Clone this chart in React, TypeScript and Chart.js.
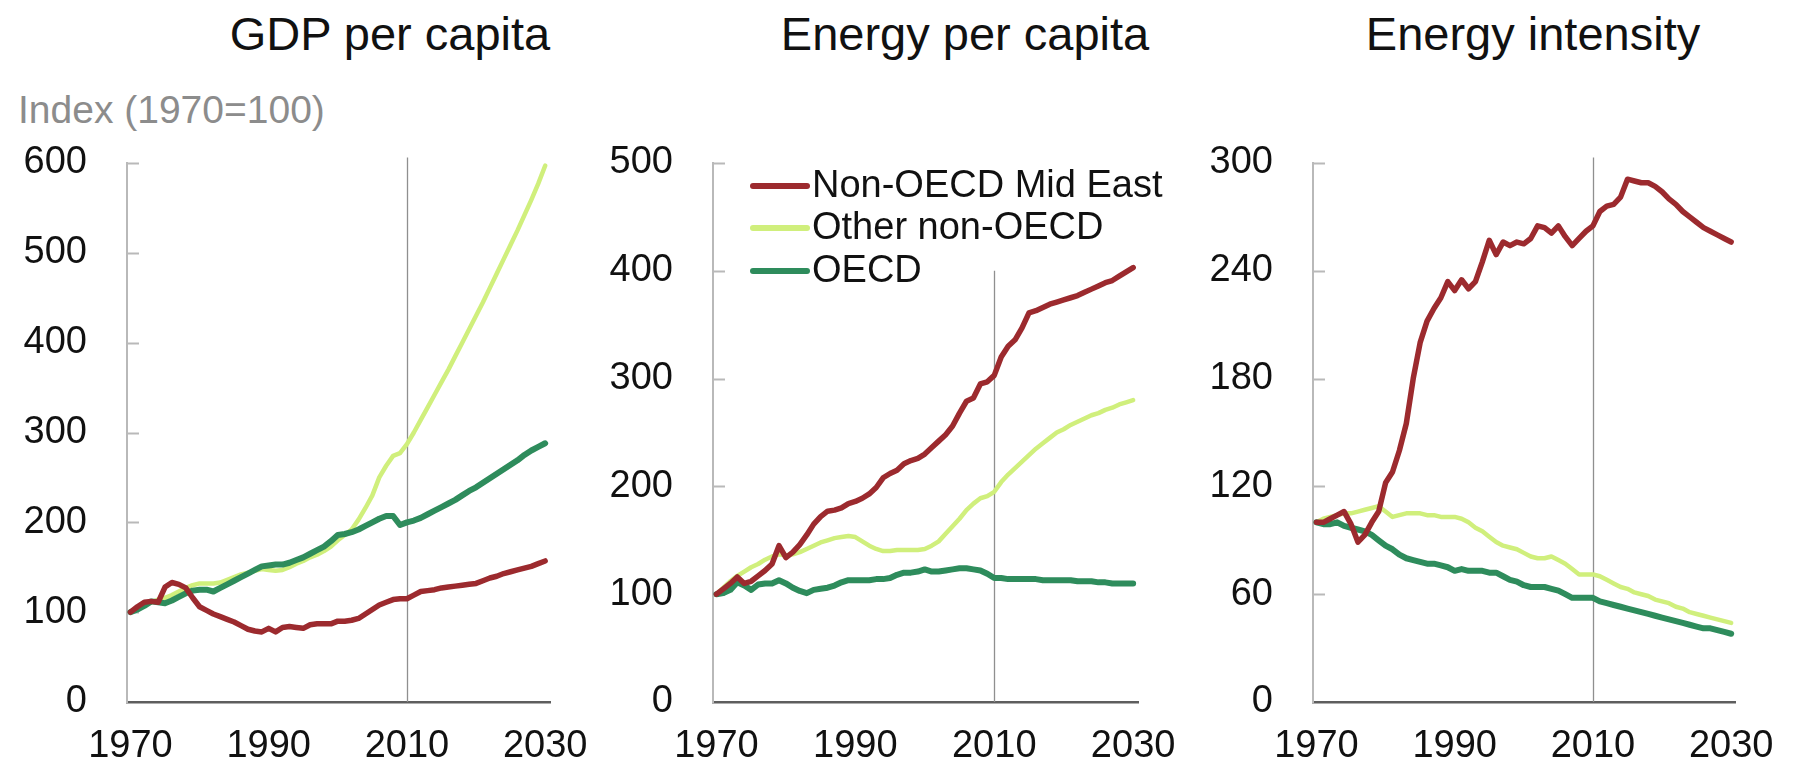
import React, { useEffect, useRef } from "react";
import { Chart, registerables } from "chart.js";

Chart.register(...registerables);

// ---------- data ----------
const YEARS = [
  1970, 1971, 1972, 1973, 1974, 1975, 1976, 1977, 1978, 1979,
  1980, 1981, 1982, 1983, 1984, 1985, 1986, 1987, 1988, 1989,
  1990, 1991, 1992, 1993, 1994, 1995, 1996, 1997, 1998, 1999,
  2000, 2001, 2002, 2003, 2004, 2005, 2006, 2007, 2008, 2009,
  2010, 2011, 2012, 2013, 2014, 2015, 2016, 2017, 2018, 2019,
  2020, 2021, 2022, 2023, 2024, 2025, 2026, 2027, 2028, 2029,
  2030,
];
const X_TICKS = [1970, 1990, 2010, 2030];
const MARKER_YEAR = 2010;
const SERIES_LABELS = ["Non-OECD Mid East", "Other non-OECD", "OECD"];
const PANEL_TITLES = ["GDP per capita", "Energy per capita", "Energy intensity"];
const Y_AXIS_NOTE = "Index (1970=100)";

const GDP_MIDEAST = [
  100, 106, 111, 112, 111, 128, 133, 131, 127, 116,
  106, 102, 98, 95, 92, 89, 85, 81, 79, 78,
  82, 78, 83, 84, 83, 82, 86, 87, 87, 87,
  90, 90, 91, 93, 98, 103, 108, 111, 114, 115,
  115, 119, 123, 124, 125, 127, 128, 129, 130, 131,
  132, 135, 138, 140, 143, 145, 147, 149, 151, 154,
  157,
];
const GDP_OTHER = [
  100, 104, 108, 111, 114, 116, 119, 123, 127, 130,
  132, 132, 132, 133, 136, 139, 142, 144, 146, 148,
  147, 146, 147, 150, 154, 157, 161, 164, 168, 173,
  180, 186, 192, 203, 216, 230, 250, 263, 274, 277,
  287, 300, 314, 328, 342, 356, 370, 385, 400, 415,
  430, 445, 461, 477, 493, 509, 525, 542, 559, 577,
  597,
];
const GDP_OECD = [
  100, 103, 107, 112, 111, 110, 113, 117, 121, 124,
  125, 125, 123, 127, 131, 135, 139, 143, 147, 151,
  152, 153, 153, 155, 158, 161, 165, 169, 173, 179,
  186, 187, 189, 192, 196, 200, 204, 207, 207, 197,
  200, 202, 205, 209, 213, 217, 221, 225, 230, 235,
  239, 244, 249, 254, 259, 264, 269, 275, 280, 284,
  288,
];

const EPC_MIDEAST = [
  100, 105, 110, 116, 110, 112, 117, 122, 128, 145,
  134, 139, 146, 155, 165, 172, 177, 178, 180, 184,
  186, 189, 193, 199, 208, 212, 215, 221, 224, 226,
  230, 236, 242, 248, 256, 268, 279, 282, 295, 297,
  303, 320, 330, 336, 347, 361, 363, 366, 369, 371,
  373, 375, 377, 380, 383, 386, 389, 391, 395, 399,
  403,
];
const EPC_OTHER = [
  100, 106, 112, 117, 121, 125, 128, 132, 135, 137,
  136, 137, 139, 142, 145, 148, 150, 152, 153, 154,
  153, 149, 145, 142, 140, 140, 141, 141, 141, 141,
  142, 145, 149, 156, 163, 170, 178, 184, 189, 191,
  195, 204, 211, 217, 223, 229, 235, 240, 245, 250,
  253, 257, 260, 263, 266, 268, 271, 273, 276, 278,
  280,
];
const EPC_OECD = [
  100, 101, 104, 111, 108, 104, 109, 110, 110, 113,
  110, 106, 103, 101, 104, 105, 106, 108, 111, 113,
  113, 113, 113, 114, 114, 115, 118, 120, 120, 121,
  123, 121, 121, 122, 123, 124, 124, 123, 122, 119,
  115, 115, 114, 114, 114, 114, 114, 113, 113, 113,
  113, 113, 112, 112, 112, 111, 111, 110, 110, 110,
  110,
];

const EI_MIDEAST = [
  100, 100, 102, 104, 106, 99, 89, 93, 100, 106,
  122, 128, 140, 155, 180, 200, 212, 219, 225, 234,
  229, 235, 230, 234, 245, 257, 249, 256, 254, 256,
  255, 258, 265, 264, 261, 265, 259, 254, 258, 262,
  265, 273, 276, 277, 281, 291, 290, 289, 289, 287,
  284, 280, 277, 273, 270, 267, 264, 262, 260, 258,
  256,
];
const EI_OTHER = [
  100, 102, 103, 104, 105, 105, 106, 107, 108, 109,
  106, 103, 104, 105, 105, 105, 104, 104, 103, 103,
  103, 102, 100, 97, 95, 92, 89, 87, 86, 85,
  83, 81, 80, 80, 81, 79, 77, 74, 71, 71,
  71, 70, 68, 66, 64, 63, 61, 60, 59, 57,
  56, 55, 53, 52, 50, 49, 48, 47, 46, 45,
  44,
];
const EI_OECD = [
  100, 99, 99, 100, 98, 97, 96, 95, 93, 90,
  87, 85, 82, 80, 79, 78, 77, 77, 76, 75,
  73, 74, 73, 73, 73, 72, 72, 70, 68, 67,
  65, 64, 64, 64, 63, 62, 60, 58, 58, 58,
  58, 56, 55, 54, 53, 52, 51, 50, 49, 48,
  47, 46, 45, 44, 43, 42, 41, 41, 40, 39,
  38,
];

const Y_MAX = [600, 500, 300];
const Y_STEP = [100, 100, 60];
const MARKER_TOP = [606, 400, 303];

// ---------- styles ----------
const FONT = "'Liberation Sans', Arial, Helvetica, sans-serif";
const COLORS = ["#9c2a2e", "#d0ef7c", "#2e8c5c"];
const WIDTHS = [5.5, 4.5, 6];
const ORDER = [0, 2, 1];
const W = 1796;
const H = 774;
const LAYOUT = [
  { padLeft: 0, axisWidth: 127, padRight: W - 550, titleCenter: 390 },
  { padLeft: 590, axisWidth: 123, padRight: W - 1138, titleCenter: 965 },
  { padLeft: 1180, axisWidth: 133, padRight: W - 1746, titleCenter: 1533 },
];
const PLOT_TOP = 163;
const X_AXIS_HEIGHT = 72;
const TICK_SIZE = 38;

const decorPlugin = {
  id: "panelDecor",
  beforeDatasetsDraw(chart: any, _a: any, opts: any) {
    const { ctx, chartArea, scales } = chart;
    const xs = scales.x;
    const ys = scales.y;
    ctx.save();
    ctx.strokeStyle = "#b9b9b9";
    ctx.lineWidth = 2;
    ys.ticks.forEach((t: any) => {
      if (t.value === 0) return;
      const py = Math.round(ys.getPixelForValue(t.value)) + 0.5;
      ctx.beginPath();
      ctx.moveTo(chartArea.left, py);
      ctx.lineTo(chartArea.left + 12, py);
      ctx.stroke();
    });
    const px = Math.round(xs.getPixelForValue(opts.markerYear)) + 0.5;
    ctx.strokeStyle = "#8f8f8f";
    ctx.lineWidth = 1.3;
    ctx.beginPath();
    ctx.moveTo(px, ys.getPixelForValue(opts.markerTop));
    ctx.lineTo(px, ys.getPixelForValue(0));
    ctx.stroke();
    ctx.restore();
  },
  afterDatasetsDraw(chart: any, _a: any, opts: any) {
    if (!opts.legend) return;
    const { ctx, chartArea } = chart;
    const rows = [23, 65, 108];
    ctx.save();
    chart.data.datasets.forEach((ds: any, i: number) => {
      const y = chartArea.top + rows[i];
      ctx.strokeStyle = ds.borderColor;
      ctx.lineWidth = 6;
      ctx.lineCap = "round";
      ctx.beginPath();
      ctx.moveTo(chartArea.left + 40, y);
      ctx.lineTo(chartArea.left + 94, y);
      ctx.stroke();
      ctx.fillStyle = "#111";
      ctx.font = `38px ${FONT}`;
      ctx.textBaseline = "middle";
      ctx.textAlign = "left";
      ctx.fillText(ds.label, chartArea.left + 99, y + 1);
    });
    ctx.restore();
  },
};

function Panel({ idx, series }: { idx: number; series: number[][] }) {
  const ref = useRef<HTMLCanvasElement | null>(null);
  useEffect(() => {
    if (!ref.current) return;
    const lay = LAYOUT[idx];
    const chart = new Chart(ref.current, {
      type: "line",
      data: {
        labels: YEARS,
        datasets: series.map((vals, i) => ({
          label: SERIES_LABELS[i],
          data: vals,
          borderColor: COLORS[i],
          backgroundColor: COLORS[i],
          borderWidth: WIDTHS[i],
          pointRadius: 0,
          tension: 0,
          borderJoinStyle: "round",
          borderCapStyle: "round",
          order: ORDER[i],
        })),
      },
      options: {
        animation: false,
        responsive: false,
        devicePixelRatio: 1,
        layout: {
          padding: { left: lay.padLeft, right: lay.padRight, top: PLOT_TOP, bottom: 0 },
        },
        plugins: {
          legend: { display: false },
          tooltip: { enabled: false },
          title: { display: false },
          panelDecor: { markerYear: MARKER_YEAR, markerTop: MARKER_TOP[idx], legend: idx === 1 },
        } as any,
        scales: {
          x: {
            type: "linear",
            min: 1969.5,
            max: 2030.7,
            afterBuildTicks: (s: any) => {
              s.ticks = X_TICKS.map((v) => ({ value: v }));
            },
            afterFit: (s: any) => {
              s.height = X_AXIS_HEIGHT;
            },
            grid: { display: false, drawTicks: false },
            border: { display: true, color: "#5e5e5e", width: 2.5 },
            ticks: {
              font: { family: FONT, size: TICK_SIZE },
              color: "#111",
              padding: 22,
              maxRotation: 0,
              autoSkip: false,
              callback: (v: any) => String(v),
            },
          },
          y: {
            min: 0,
            max: Y_MAX[idx],
            afterFit: (s: any) => {
              s.width = lay.axisWidth;
            },
            grid: { display: false, drawTicks: false },
            border: { display: true, color: "#b9b9b9", width: 2 },
            ticks: {
              stepSize: Y_STEP[idx],
              font: { family: FONT, size: TICK_SIZE },
              color: "#111",
              padding: 40,
              callback: (v: any) => String(v),
            },
          },
        },
      } as any,
      plugins: [decorPlugin],
    });
    return () => chart.destroy();
  }, [idx, series]);
  return (
    <canvas
      ref={ref}
      width={W}
      height={H}
      style={{ position: "absolute", left: 0, top: 0, width: W, height: H }}
    />
  );
}

const PANEL_SERIES = [
  [GDP_MIDEAST, GDP_OTHER, GDP_OECD],
  [EPC_MIDEAST, EPC_OTHER, EPC_OECD],
  [EI_MIDEAST, EI_OTHER, EI_OECD],
];

export default function App() {
  return (
    <div
      style={{
        position: "absolute",
        left: 0,
        top: 0,
        width: W,
        height: H,
        background: "#fff",
        overflow: "hidden",
        fontFamily: FONT,
      }}
    >
      {PANEL_TITLES.map((t, i) => (
        <div
          key={t}
          style={{
            position: "absolute",
            left: LAYOUT[i].titleCenter,
            top: 10,
            transform: "translateX(-50%)",
            fontSize: 47,
            lineHeight: "47px",
            whiteSpace: "nowrap",
            color: "#111",
          }}
        >
          {t}
        </div>
      ))}
      <div
        style={{
          position: "absolute",
          left: 18,
          top: 90,
          fontSize: 39,
          lineHeight: "39px",
          whiteSpace: "nowrap",
          color: "#8c8c8c",
        }}
      >
        {Y_AXIS_NOTE}
      </div>
      {PANEL_SERIES.map((s, i) => (
        <Panel key={i} idx={i} series={s} />
      ))}
    </div>
  );
}
